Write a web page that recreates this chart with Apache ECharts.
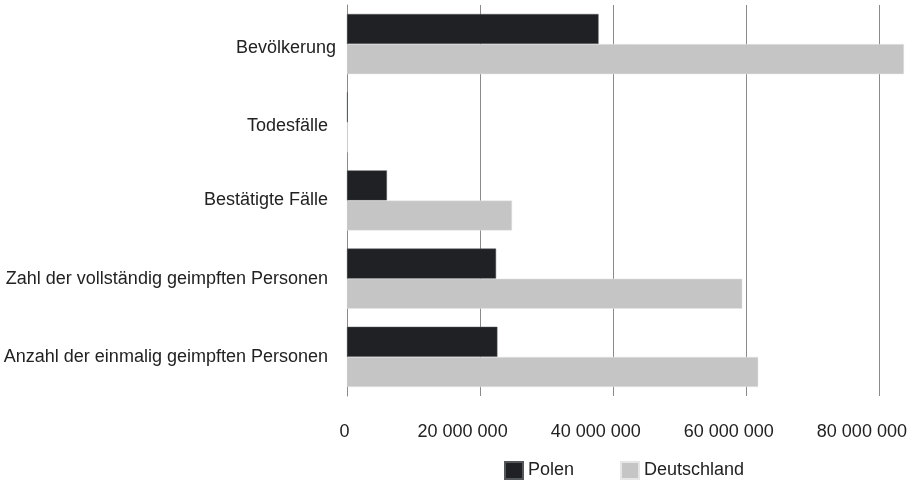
<!DOCTYPE html>
<html>
<head>
<meta charset="utf-8">
<script src="https://cdn.jsdelivr.net/npm/echarts@6/dist/echarts.min.js"></script>
<style>html,body{margin:0;padding:0;background:#fff}#c{width:911px;height:482px}</style>
</head>
<body>
<div id="c"></div>
<script>
const categories = ["Bevölkerung", "Todesfälle", "Bestätigte Fälle", "Zahl der vollständig geimpften Personen", "Anzahl der einmalig geimpften Personen"];
const seriesNames = ["Polen", "Deutschland"];
const polen = [37800000, 115000, 6000000, 22400000, 22600000];
const deutschland = [83700000, 140000, 24800000, 59400000, 61800000];
const xTicks = [0, 20000000, 40000000, 60000000, 80000000];

function fmt(v) { return String(v).replace(/\B(?=(\d{3})+(?!\d))/g, ' '); }
const FONT = 'Liberation Sans, Arial, sans-serif';

const chart = echarts.init(document.getElementById('c'));
chart.setOption({
  animation: false,
  backgroundColor: '#fff',
  textStyle: { fontFamily: FONT },
  grid: { left: 347, right: 7, top: 5, bottom: 86, containLabel: false, outerBoundsMode: 'none' },
  legend: {
    data: seriesNames,
    left: 504, top: 461, padding: 0,
    itemWidth: 18, itemHeight: 17, itemGap: 46,
    textStyle: { fontSize: 18, color: '#222', fontFamily: FONT },
    icon: 'rect'
  },
  xAxis: {
    type: 'value',
    min: 0,
    max: Math.max.apply(null, deutschland),
    interval: 20000000,
    axisLine: { show: false },
    axisTick: { show: false },
    splitLine: { show: true, showMaxLine: false, lineStyle: { color: '#8a8a8a', width: 1 } },
    axisLabel: {
      margin: 27, fontSize: 18, color: '#222',
      showMaxLabel: false,
      hideOverlap: false,
      formatter: function (v) {
        if (xTicks.indexOf(v) < 0) return '';
        return v === 0 ? '{z|0}' : '{n|' + fmt(v) + '}';
      },
      rich: {
        z: { fontSize: 18, color: '#222', padding: [0, 5, 0, 0] },
        n: { fontSize: 18, color: '#222', padding: [0, 35, 0, 0] }
      }
    }
  },
  yAxis: {
    type: 'category',
    data: categories,
    inverse: true,
    axisLine: { show: true, lineStyle: { color: '#8a8a8a', width: 1 } },
    axisTick: { show: false },
    axisLabel: {
      fontSize: 18, color: '#222', margin: 11,
      formatter: function (v) {
        if (v === categories[0]) return '{a|' + v + '}';
        if (v === categories[1]) return '{b|' + v + '}';
        return '{p|' + v + '}';
      },
      rich: {
        a: { fontSize: 18, color: '#222', padding: [7, 0, 0, 0] },
        b: { fontSize: 18, color: '#222', padding: [7, 8, 0, 0] },
        p: { fontSize: 18, color: '#222', padding: [0, 8, 0, 0] }
      }
    }
  },
  series: [
    {
      name: seriesNames[0], type: 'bar', data: polen,
      barGap: '0%', barCategoryGap: '23%',
      itemStyle: { color: '#1f2124', borderColor: '#55585b', borderWidth: 0.5 }
    },
    {
      name: seriesNames[1], type: 'bar', data: deutschland,
      barGap: '0%', barCategoryGap: '23%',
      itemStyle: { color: '#c4c5c4', borderColor: '#e6e6e6', borderWidth: 0.5 }
    }
  ]
});
</script>
</body>
</html>
